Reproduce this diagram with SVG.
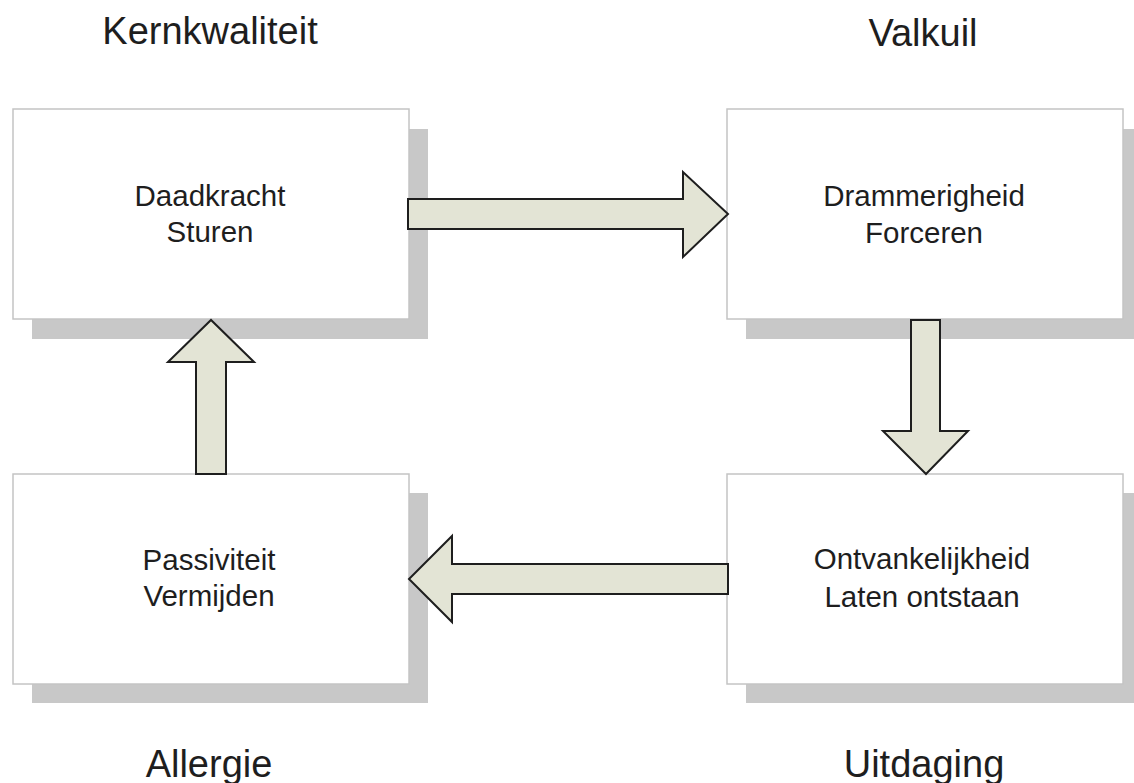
<svg xmlns="http://www.w3.org/2000/svg" width="1134" height="783" viewBox="0 0 1134 783">
<style>
.shadow{fill:#c8c8c8}
.box{fill:#ffffff;stroke:#c4c4c4;stroke-width:1.5}
.arrow{fill:#e3e4d5;stroke:#1e1e1e;stroke-width:2;stroke-linejoin:miter}
.lbl{font-family:"Liberation Sans",Arial,sans-serif;font-size:29.5px;fill:#1e1e1e;text-anchor:middle}
.title{font-family:"Liberation Sans",Arial,sans-serif;font-size:38px;fill:#1e1e1e;text-anchor:middle}
</style>
<rect width="1134" height="783" fill="#ffffff"/>
<g id="title-kernkwaliteit"><text class="title" x="210" y="44">Kernkwaliteit</text></g>
<g id="title-valkuil"><text class="title" x="923" y="46">Valkuil</text></g>
<g id="title-allergie"><text class="title" x="209" y="777">Allergie</text></g>
<g id="title-uitdaging"><text class="title" x="924" y="777">Uitdaging</text></g>

<g id="node-kernkwaliteit">
<rect class="shadow" x="32" y="129" width="396" height="210"/>
<rect class="box" x="13" y="109" width="396" height="210"/>
<text class="lbl" x="210" y="206">Daadkracht</text>
<text class="lbl" x="210" y="242">Sturen</text>
</g>
<g id="node-valkuil">
<rect class="shadow" x="746" y="129" width="396" height="210"/>
<rect class="box" x="727" y="109" width="396" height="210"/>
<text class="lbl" x="924" y="206">Drammerigheid</text>
<text class="lbl" x="924" y="243">Forceren</text>
</g>
<g id="node-allergie">
<rect class="shadow" x="32" y="493" width="396" height="210"/>
<rect class="box" x="13" y="474" width="396" height="210"/>
<text class="lbl" x="209" y="570">Passiviteit</text>
<text class="lbl" x="209" y="606">Vermijden</text>
</g>
<g id="node-uitdaging">
<rect class="shadow" x="746" y="493" width="396" height="210"/>
<rect class="box" x="727" y="474" width="396" height="210"/>
<text class="lbl" x="922" y="569">Ontvankelijkheid</text>
<text class="lbl" x="922" y="607">Laten ontstaan</text>
</g>

<g id="connectors">
<polygon class="arrow" points="408,199 683,199 683,172 728,214 683,257 683,229 408,229"/>
<polygon class="arrow" points="911,320 940,320 940,431 968,431 926,474 883,431 911,431"/>
<polygon class="arrow" points="728,564 452,564 452,536 409,579 452,622 452,594 728,594"/>
<polygon class="arrow" points="196,474 226,474 226,362 254,362 211,320 168,362 196,362"/>
</g>
</svg>
